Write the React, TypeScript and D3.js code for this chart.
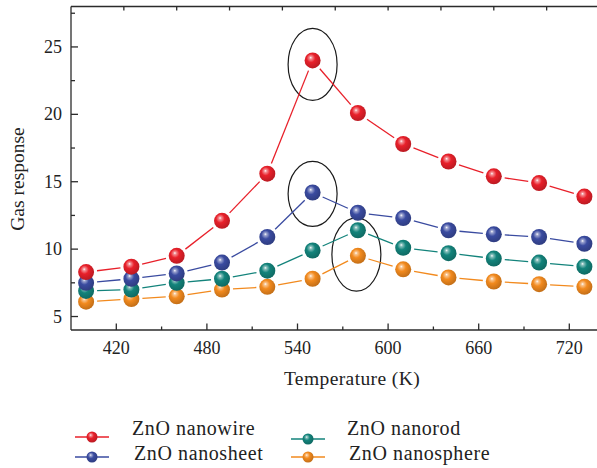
import React, { useEffect, useRef } from "react";
import * as d3 from "d3";

// temperatures (K) and gas response of each morphology
const temps = [400, 430, 460, 490, 520, 550, 580, 610, 640, 670, 700, 730];
const nanowire = [8.3, 8.7, 9.5, 12.1, 15.6, 24.0, 20.1, 17.8, 16.5, 15.4, 14.9, 13.9];
const nanosheet = [7.5, 7.8, 8.2, 9.0, 10.9, 14.2, 12.7, 12.3, 11.4, 11.1, 10.9, 10.4];
const nanorod = [6.9, 7.0, 7.5, 7.8, 8.4, 9.9, 11.4, 10.1, 9.7, 9.3, 9.0, 8.7];
const nanosphere = [6.1, 6.3, 6.5, 7.0, 7.2, 7.8, 9.5, 8.5, 7.9, 7.6, 7.4, 7.2];

const seriesNames = ["ZnO nanowire", "ZnO nanosheet", "ZnO nanorod", "ZnO nanosphere"];
const seriesColors = ["#e8202a", "#3a4ba0", "#13837b", "#f28a1e"];

const xMajor = [420, 480, 540, 600, 660, 720];
const xMinor = [450, 510, 570, 630, 690];
const xTop = [425, 460, 495, 530, 565, 600, 635, 670, 705];
const yMajor = [5, 10, 15, 20, 25];
const yMinor = [7.5, 12.5, 17.5, 22.5, 27.5];

// circled peaks (center in data units)
const markX = [550, 550, 579];
const markY = [23.7, 14.1, 9.6];

const FONT = "'Liberation Serif', 'Times New Roman', serif";

export default function App() {
  const ref = useRef<SVGSVGElement>(null);

  useEffect(() => {
    const svg = d3.select(ref.current);
    svg.selectAll("*").remove();

    const margin = { left: 71, top: 6.5, right: 0, bottom: 138 };
    const W = 597, H = 468;

    const x = d3.scaleLinear().domain([390, 740]).range([margin.left, 599.5]);
    const y = d3.scaleLinear().domain([4, 28]).range([H - margin.bottom, margin.top]);

    const values = [nanowire, nanosheet, nanorod, nanosphere];
    const axisColor = "#2b2b2b";

    // ball gradients
    const defs = svg.append("defs");
    seriesColors.forEach((c, i) => {
      const g = defs.append("radialGradient")
        .attr("id", "ball" + i)
        .attr("cx", "42%").attr("cy", "40%").attr("r", "60%")
        .attr("fx", "38%").attr("fy", "32%");
      g.append("stop").attr("offset", "0%").attr("stop-color", "#ffffff");
      g.append("stop").attr("offset", "14%").attr("stop-color", d3.interpolateRgb(c, "#fff")(0.5));
      g.append("stop").attr("offset", "45%").attr("stop-color", c);
      g.append("stop").attr("offset", "100%").attr("stop-color", d3.color(c)!.darker(0.6).toString());
    });

    // frame
    const frame = svg.append("g").attr("stroke", axisColor).attr("stroke-width", 1.3).attr("fill", "none");
    frame.append("line").attr("x1", x(390)).attr("x2", W).attr("y1", y(4)).attr("y2", y(4));
    frame.append("line").attr("x1", x(390)).attr("x2", W).attr("y1", y(28)).attr("y2", y(28));
    frame.append("line").attr("x1", x(390)).attr("x2", x(390)).attr("y1", y(28)).attr("y2", y(4));

    // ticks (inward)
    xMajor.forEach(v => frame.append("line").attr("x1", x(v)).attr("x2", x(v)).attr("y1", y(4)).attr("y2", y(4) - 6.5));
    xMinor.forEach(v => frame.append("line").attr("x1", x(v)).attr("x2", x(v)).attr("y1", y(4)).attr("y2", y(4) - 3.5));
    xTop.forEach(v => frame.append("line").attr("x1", x(v)).attr("x2", x(v)).attr("y1", y(28)).attr("y2", y(28) + 4));
    yMajor.forEach(v => frame.append("line").attr("x1", x(390)).attr("x2", x(390) + 7).attr("y1", y(v)).attr("y2", y(v)));
    yMinor.forEach(v => frame.append("line").attr("x1", x(390)).attr("x2", x(390) + 4).attr("y1", y(v)).attr("y2", y(v)));

    // tick labels
    svg.append("g").selectAll("text").data(xMajor).join("text")
      .attr("x", d => x(d)).attr("y", 353.5)
      .attr("text-anchor", "middle")
      .attr("font-family", FONT).attr("font-size", 18).attr("fill", "#222")
      .text(d => d);
    svg.append("g").selectAll("text").data(yMajor).join("text")
      .attr("x", 62).attr("y", d => y(d) + 6)
      .attr("text-anchor", "end")
      .attr("font-family", FONT).attr("font-size", 18).attr("fill", "#222")
      .text(d => d);

    // axis titles
    svg.append("text")
      .attr("x", 352).attr("y", 385)
      .attr("text-anchor", "middle")
      .attr("font-family", FONT).attr("font-size", 19.5).attr("letter-spacing", 0.4).attr("fill", "#222")
      .text("Temperature (K)");
    svg.append("text")
      .attr("transform", "translate(24,179) rotate(-90)")
      .attr("text-anchor", "middle")
      .attr("font-family", FONT).attr("font-size", 19.5).attr("fill", "#222")
      .text("Gas response");

    // ellipses
    const ry = [36, 32.5, 36.7];
    markX.forEach((mx, i) => {
      svg.append("ellipse")
        .attr("cx", x(mx)).attr("cy", y(markY[i]))
        .attr("rx", 24.5).attr("ry", ry[i])
        .attr("fill", "none").attr("stroke", "#1a1a1a").attr("stroke-width", 1.2);
    });

    // lines with gaps around balls
    const gap = 11;
    values.forEach((vals, si) => {
      const pts = temps.map((t, i) => [x(t), y(vals[i])]);
      const g = svg.append("g").attr("stroke", seriesColors[si]).attr("stroke-width", 1.3);
      d3.pairs(pts).forEach(([a, b]) => {
        const dx = b[0] - a[0], dy = b[1] - a[1];
        const len = Math.hypot(dx, dy);
        if (len <= 2 * gap) return;
        const ux = dx / len, uy = dy / len;
        g.append("line")
          .attr("x1", a[0] + ux * gap).attr("y1", a[1] + uy * gap)
          .attr("x2", b[0] - ux * gap).attr("y2", b[1] - uy * gap);
      });
    });

    // balls, drawn bottom series first so upper ones overlap
    [3, 2, 1, 0].forEach(si => {
      svg.append("g").selectAll("circle").data(temps).join("circle")
        .attr("cx", d => x(d))
        .attr("cy", (d, i) => y(values[si][i]))
        .attr("r", 8)
        .attr("fill", `url(#ball${si})`);
    });

    // legend
    const legX = [92, 308];
    const legLineY = [437, 457];
    const legTextY = [435, 460];
    seriesNames.forEach((name, i) => {
      const col = Math.floor(i / 2);
      const row = i % 2;
      const cx = legX[col];
      const ly = col === 1 && row === 0 ? 439 : legLineY[row];
      const g = svg.append("g");
      g.append("line")
        .attr("x1", cx - 17).attr("x2", cx + 17).attr("y1", ly).attr("y2", ly)
        .attr("stroke", seriesColors[i]).attr("stroke-width", 1.3);
      g.append("circle").attr("cx", cx).attr("cy", ly).attr("r", 5.5).attr("fill", `url(#ball${i})`);
      g.append("text")
        .attr("x", col === 0 ? 132 + row * 2 : 347 + row * 2)
        .attr("y", legTextY[row])
        .attr("font-family", FONT).attr("font-size", 20).attr("letter-spacing", 0.6).attr("fill", "#222")
        .text(name);
    });
  }, []);

  return (
    <svg ref={ref} width={597} height={468}
      style={{ position: "absolute", left: 0, top: 0, background: "#fff" }} />
  );
}
